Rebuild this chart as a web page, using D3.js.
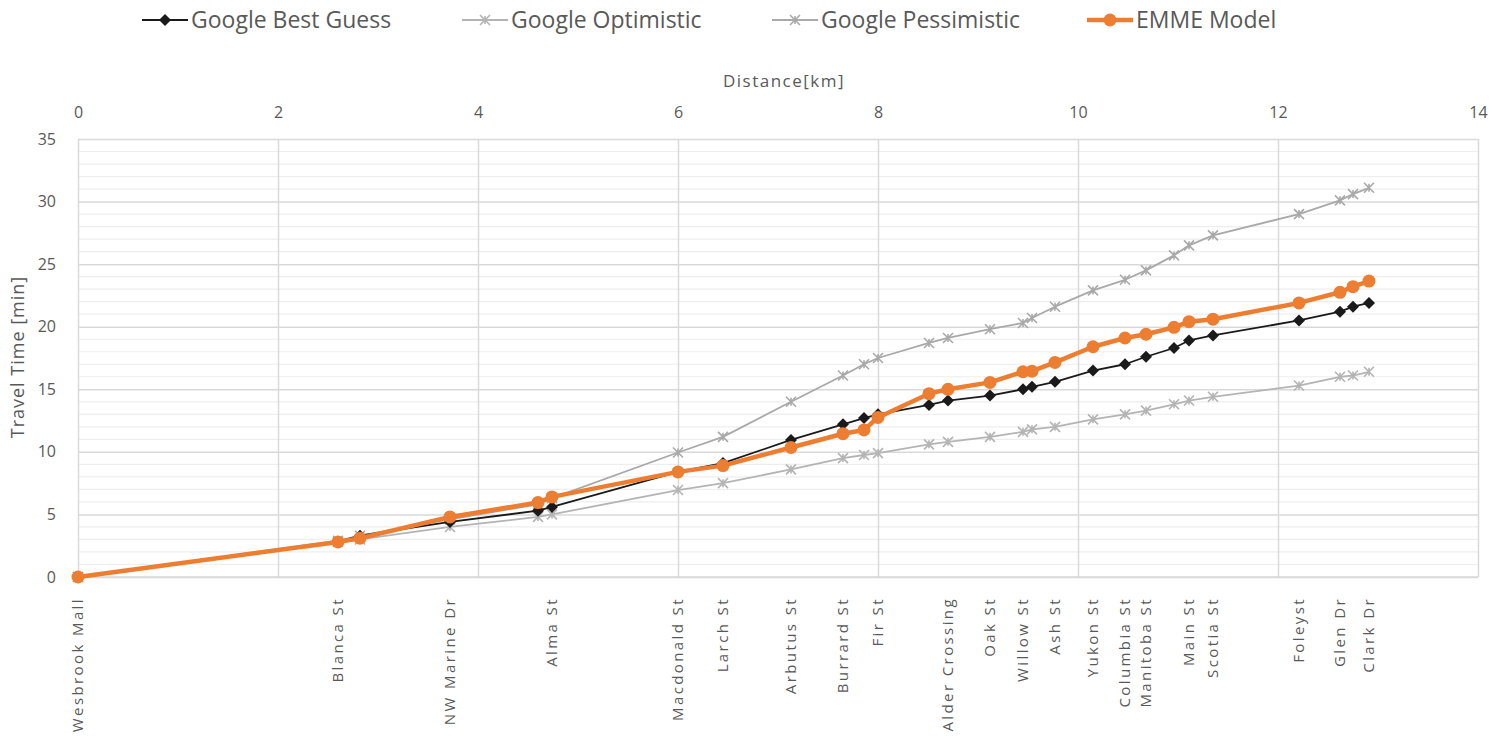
<!DOCTYPE html>
<html>
<head>
    <script src="https://d3js.org/d3.v7.min.js" charset="utf-8"></script>
    <style>
        body { margin: 0; background: white; }
        text { font-family: "Open Sans", sans-serif; fill: #595959; }
    </style>
</head>
<body>
   <script>
        // stops along the route (km) and their labels
        var stopDist = [0, 2.6, 2.82, 3.72, 4.6, 4.74, 6.0, 6.45, 7.13, 7.65, 7.86, 8.0, 8.51, 8.7,
            9.12, 9.45, 9.54, 9.77, 10.15, 10.47, 10.68, 10.96, 11.11, 11.35, 12.21, 12.62, 12.75, 12.91];
        var stopNames = ["Wesbrook Mall", "Blanca St", "", "NW Marine Dr", "", "Alma St", "Macdonald St",
            "Larch St", "Arbutus St", "Burrard St", "", "Fir St", "", "Alder Crossing", "Oak St", "Willow St",
            "", "Ash St", "Yukon St", "Columbia St", "Manitoba St", "", "Main St", "Scotia St", "Foleyst",
            "Glen Dr", "", "Clark Dr"];

        // travel times [min]
        var bestGuess = [0, 2.8, 3.3, 4.4, 5.3, 5.6, 8.4, 9.1, 10.95, 12.2, 12.7, 13.0, 13.75, 14.1,
            14.5, 15.0, 15.2, 15.6, 16.5, 17.0, 17.6, 18.3, 18.9, 19.3, 20.5, 21.2, 21.6, 21.9];
        var optimistic = [0, 2.8, 3.0, 4.0, 4.8, 5.0, 6.95, 7.5, 8.6, 9.5, 9.75, 9.9, 10.6, 10.8,
            11.2, 11.6, 11.8, 12.0, 12.6, 13.0, 13.3, 13.8, 14.1, 14.4, 15.3, 16.0, 16.1, 16.4];
        var pessimistic = [0, 2.9, 3.3, 4.6, 5.8, 6.3, 9.95, 11.2, 14.0, 16.1, 17.0, 17.5, 18.7, 19.1,
            19.8, 20.3, 20.7, 21.6, 22.9, 23.75, 24.5, 25.7, 26.5, 27.3, 29.0, 30.1, 30.6, 31.1];
        var emme = [0, 2.8, 3.1, 4.8, 5.95, 6.4, 8.4, 8.9, 10.35, 11.45, 11.75, 12.75, 14.65, 15.0,
            15.55, 16.4, 16.45, 17.15, 18.4, 19.1, 19.4, 19.95, 20.4, 20.6, 21.9, 22.75, 23.2, 23.65];

        var xTicks = [0, 2, 4, 6, 8, 10, 12, 14];
        var yTicks = [0, 5, 10, 15, 20, 25, 30, 35];

        var svg = d3.select("body")
            .append("svg")
            .attr("width", 1507)
            .attr("height", 736)
            .style("background", "white");

        var pLeft = 78, pRight = 1478, pTop = 139, pBottom = 577;
        var x = d3.scaleLinear().domain([0, 14]).range([pLeft, pRight]);
        var y = d3.scaleLinear().domain([0, 35]).range([pBottom, pTop]);

        // minor gridlines
        svg.append("g")
            .selectAll("line")
            .data(d3.range(1, 35).filter(function (d) { return d % 5 != 0; }))
            .enter()
            .append("line")
            .attr("x1", pLeft).attr("x2", pRight)
            .attr("y1", function (d) { return y(d); })
            .attr("y2", function (d) { return y(d); })
            .style("stroke", "#eeeeee")
            .style("stroke-width", 1.2);

        // major gridlines + tick labels
        var yAxis = svg.append("g")
            .attr("transform", "translate(" + pLeft + ",0)")
            .call(d3.axisLeft(y).tickValues(yTicks).tickSize(-(pRight - pLeft)).tickPadding(22));
        var xAxis = svg.append("g")
            .attr("transform", "translate(0," + pTop + ")")
            .call(d3.axisTop(x).tickValues(xTicks).tickSize(-(pBottom - pTop)).tickPadding(21));
        [xAxis, yAxis].forEach(function (ax) {
            ax.select(".domain").remove();
            ax.selectAll("line").style("stroke", "#d9d9d9").style("stroke-width", 1.5);
            ax.selectAll("text")
                .style("font-size", "16px")
                .style("font-family", "'Open Sans', sans-serif")
                .style("fill", "#595959");
        });
        svg.append("line")
            .attr("x1", pLeft).attr("x2", pRight)
            .attr("y1", pBottom).attr("y2", pBottom)
            .style("stroke", "#d9d9d9").style("stroke-width", 1.5);

        // axis titles
        svg.append("text")
            .attr("x", (pLeft + pRight) / 2 + 6)
            .attr("y", 87)
            .attr("text-anchor", "middle")
            .style("font-size", "17px")
            .style("letter-spacing", "1.5px")
            .text("Distance[km]");
        svg.append("text")
            .attr("transform", "translate(24," + ((pBottom + pTop) / 2 - 1) + ") rotate(-90)")
            .attr("text-anchor", "middle")
            .style("font-size", "18px")
            .style("letter-spacing", "1px")
            .text("Travel Time [min]");

        // stop labels
        svg.append("g")
            .selectAll("text")
            .data(stopNames.map(function (n, i) { return { name: n, d: stopDist[i] }; })
                .filter(function (s) { return s.name != ""; }))
            .enter()
            .append("text")
            .attr("transform", function (s) {
                return "translate(" + x(s.d) + ",597) rotate(-90)";
            })
            .attr("text-anchor", "end")
            .attr("dy", "0.35em")
            .style("font-size", "15px")
            .style("letter-spacing", "2.4px")
            .text(function (s) { return s.name; });

        var series = [
            { name: "Google Best Guess", values: bestGuess, color: "#1a1a1a", width: 1.8, marker: "diamond" },
            { name: "Google Optimistic", values: optimistic, color: "#b4b4b4", width: 1.8, marker: "star" },
            { name: "Google Pessimistic", values: pessimistic, color: "#a9a9a9", width: 1.8, marker: "star" },
            { name: "EMME Model", values: emme, color: "#ed7d31", width: 4.5, marker: "circle" }
        ];

        function drawMarker(g, type, color) {
            if (type == "diamond") {
                g.append("path")
                    .attr("d", "M0,-6L6,0L0,6L-6,0Z")
                    .style("fill", color);
            } else if (type == "circle") {
                g.append("circle")
                    .attr("r", 6.5)
                    .style("fill", color);
            } else {
                g.append("path")
                    .attr("d", "M-5,-5L5,5M-5,5L5,-5M0,-4L0,4")
                    .style("stroke", color)
                    .style("stroke-width", 1.6)
                    .style("fill", "none");
            }
        }

        // plot order: grey first, then black, then orange
        var order = [1, 2, 0, 3];
        var line = d3.line()
            .x(function (d, i) { return x(stopDist[i]); })
            .y(function (d) { return y(d); });

        order.forEach(function (k) {
            var s = series[k];
            var g = svg.append("g").attr("class", "series");
            g.append("path")
                .datum(s.values)
                .attr("d", line)
                .style("fill", "none")
                .style("stroke", s.color)
                .style("stroke-width", s.width)
                .style("stroke-linejoin", "round");
            g.selectAll("g.pt")
                .data(s.values)
                .enter()
                .append("g")
                .attr("class", "pt")
                .attr("transform", function (d, i) {
                    return "translate(" + x(stopDist[i]) + "," + y(d) + ")";
                })
                .each(function () { drawMarker(d3.select(this), s.marker, s.color); });
        });

        // legend
        var legendX = [142, 462, 772, 1087];
        var legend = svg.append("g")
            .selectAll("g.item")
            .data(series)
            .enter()
            .append("g")
            .attr("class", "item")
            .attr("transform", function (d, i) { return "translate(" + legendX[i] + ",20)"; });
        legend.append("line")
            .attr("x1", 0).attr("x2", 46)
            .style("stroke", function (d) { return d.color; })
            .style("stroke-width", function (d) { return d.width; });
        legend.each(function (d) {
            var m = d3.select(this).append("g").attr("transform", "translate(23,0)");
            drawMarker(m, d.marker, d.color);
        });
        legend.append("text")
            .attr("x", 49)
            .attr("dy", "0.35em")
            .style("font-size", "23px")
            .text(function (d) { return d.name; });
    </script>
</body>
</html>
